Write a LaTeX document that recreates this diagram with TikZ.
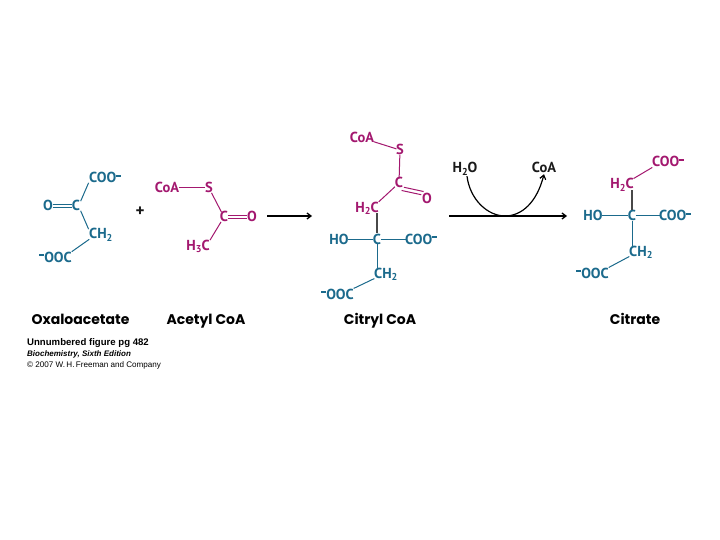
\documentclass[tikz,border=0pt]{standalone}
\usepackage{fontspec}
\setmainfont{PT Sans}
\newfontfamily\titlefont{Poppins}
\newfontfamily\capfont{Liberation Sans}
\definecolor{teal1}{HTML}{1B6A8C}
\definecolor{mag1}{HTML}{A3186F}
\definecolor{ink1}{HTML}{1A1A1A}
\newcommand{\chgm}{\raisebox{0.44em}{\rule{0.34em}{0.1em}}}
\newcommand{\subn}[1]{\raisebox{-0.2em}{\fontsize{10}{10}\selectfont #1}}
\usetikzlibrary{arrows.meta}
\tikzset{
  atom/.style={font=\fontsize{14.5}{15}\selectfont\bfseries,inner sep=1pt,text height=10pt,text depth=0pt},
  ta/.style={atom,text=teal1},
  ma/.style={atom,text=mag1},
  ka/.style={atom,text=ink1},
  tb/.style={draw=teal1,line width=1pt,shorten <=-1.5pt,shorten >=-1.5pt},
  mb/.style={draw=mag1,line width=1pt,shorten <=-1.5pt,shorten >=-1.5pt},
  gb/.style={draw=ink1!80,line width=1.1pt},
  rarrow/.style={draw=black,line width=1.3pt,-{Straight Barb[length=4pt,width=6pt]}},
  title1/.style={font=\titlefont\fontsize{14}{15}\selectfont\bfseries,inner sep=0pt,text=black,anchor=base},
  capline/.style={inner sep=0pt,anchor=base west,text=black}
}
\begin{document}
\begin{tikzpicture}[x=1pt,y=-1pt]
\useasboundingbox[fill=white] (0,0) rectangle (720,540);
% Oxaloacetate
\node[ta,anchor=west] (a1) at (88,178) {COO\chgm};
\node[ta] (a2) at (48,206) {O};
\node[ta] (a3) at (76,206) {C};
\node[ta,anchor=west] (a4) at (88,234) {CH\subn{2}};
\node[ta,anchor=east] (a5) at (73,257) {\chgm OOC};
\draw[tb] (a3.north east) -- (a1.south west);
\draw[tb] ([yshift=-1.6pt]a2.east) -- ([yshift=-1.6pt]a3.west);
\draw[tb] ([yshift=1.6pt]a2.east) -- ([yshift=1.6pt]a3.west);
\draw[tb] (a3.south east) -- (a4.north west);
\draw[tb] (a4.south west) -- (a5.north east);
\node[ka,font=\fontsize{17}{17}\selectfont\bfseries,text height=0pt] (plus) at (140,217) {+};
% Acetyl CoA
\node[ma] (b1) at (167,188) {CoA};
\node[ma] (b2) at (209,188) {S};
\node[ma] (b3) at (224,217) {C};
\node[ma] (b4) at (252,217) {O};
\node[ma] (b5) at (198,245) {H\subn{3}C};
\draw[mb] (b1) -- (b2);
\draw[mb] (b2) -- (b3);
\draw[mb] ([yshift=-1.6pt]b3.east) -- ([yshift=-1.6pt]b4.west);
\draw[mb] ([yshift=1.6pt]b3.east) -- ([yshift=1.6pt]b4.west);
\draw[mb] (b3) -- (b5.north east);
% arrow 1
\coordinate (r1s) at (267,216);
\coordinate (r1e) at (312,216);
\draw[rarrow] (r1s) -- (r1e);
% Citryl CoA
\node[ma] (c1) at (362,138) {CoA};
\node[ma] (c2) at (400,150) {S};
\node[ma] (c3) at (399,183) {C};
\node[ma] (c4) at (427,199) {O};
\node[ma] (c5) at (367,207) {H\subn{2}C};
\node[ta] (c6) at (377,239) {C};
\node[ta] (c7) at (339,239) {HO};
\node[ta,anchor=west] (c8) at (404,239) {COO\chgm};
\node[ta,anchor=west] (c9) at (373,273) {CH\subn{2}};
\node[ta,anchor=east] (c10) at (355,294) {\chgm OOC};
\draw[mb] (c1) -- (c2);
\draw[mb] (c2) -- (c3);
\draw[mb] ([xshift=-1.2pt,yshift=-1.6pt]c3.south east) -- ([xshift=-1.2pt,yshift=-1.6pt]c4.north west);
\draw[mb] ([xshift=1.2pt,yshift=1.6pt]c3.south east) -- ([xshift=1.2pt,yshift=1.6pt]c4.north west);
\draw[mb] (c3) -- (c5.north east);
\draw[gb] (c5.south east -| c6) -- (c6);
\draw[tb] (c7) -- (c6);
\draw[tb] (c6) -- (c8);
\draw[tb] (c6) -- (c6 |- c9.north);
\draw[tb] (c9.south west) -- (c10.north east);
% arrow 2 with side curve
\node[ka] (w1) at (465,168) {H\subn{2}O};
\node[ka] (w2) at (544,168) {CoA};
\coordinate (r2s) at (449,216);
\coordinate (r2e) at (567,216);
\coordinate (r2m) at (505,216);
\draw[rarrow] (r2s) -- (r2e);
\draw[draw=black,line width=1.2pt] (w1.south) ++(2,2) .. controls (470,200) and (488,216) .. (r2m);
\draw[draw=black,line width=1.2pt,-{Straight Barb[length=4pt,width=6pt]}] (r2m) .. controls (522,216) and (537,202) .. (w2.south);
% Citrate
\node[ma,anchor=west] (d1) at (651,162) {COO\chgm};
\node[ma] (d2) at (622,184) {H\subn{2}C};
\node[ta] (d3) at (632,216) {C};
\node[ta] (d4) at (593,216) {HO};
\node[ta,anchor=west] (d5) at (658,216) {COO\chgm};
\node[ta,anchor=west] (d6) at (628,251) {CH\subn{2}};
\node[ta,anchor=east] (d7) at (610,273) {\chgm OOC};
\draw[mb] (d2.north east) -- (d1.south west);
\draw[gb] (d3 |- d2.south) -- (d3);
\draw[tb] (d4) -- (d3);
\draw[tb] (d3) -- (d5);
\draw[tb] (d3) -- (d3 |- d6.north);
\draw[tb] (d6.south west) -- (d7.north east);
% Titles
\node[title1] (t1) at (80.5,324) {Oxaloacetate};
\node[title1] (t2) at (206,324) {Acetyl CoA};
\node[title1] (t3) at (380,324) {Citryl CoA};
\node[title1] (t4) at (635,324) {Citrate};
% Credit
\node[capline,font=\capfont\fontsize{9.6}{10}\selectfont\bfseries] (f1) at (27,345) {Unnumbered figure pg 482};
\node[capline,font=\capfont\fontsize{8}{9}\selectfont\bfseries\itshape] (f2) at (27,356) {Biochemistry, Sixth Edition};
\node[capline,font=\capfont\fontsize{8.1}{9}\selectfont] (f3) at (27,367) {© 2007 W.\,H.\,Freeman and Company};
\end{tikzpicture}
\end{document}
